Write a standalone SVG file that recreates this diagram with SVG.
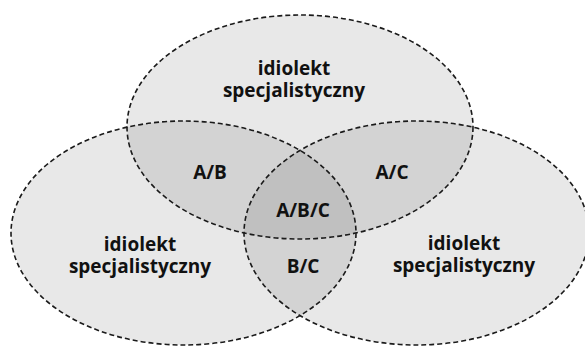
<svg xmlns="http://www.w3.org/2000/svg" width="585" height="346" viewBox="0 0 585 346">
  <style>
    .area { fill: #000; fill-opacity: 0.09; stroke: none; }
    .outline { fill: none; stroke: #1a1a1a; stroke-width: 1.6; stroke-dasharray: 5 3; }
    text { font-family: "Open Sans", "Noto Sans", sans-serif; font-weight: 700; font-size: 19px; fill: #111; text-anchor: middle; }
  </style>
  <rect width="585" height="346" fill="#fff"/>
  <g id="set-a">
    <ellipse class="area" cx="300" cy="127" rx="173" ry="112"/>
    <text x="294" y="75">idiolekt</text>
    <text x="294" y="97">specjalistyczny</text>
  </g>
  <g id="set-b">
    <ellipse class="area" cx="183.5" cy="233" rx="172.5" ry="112"/>
    <text x="140" y="251">idiolekt</text>
    <text x="140" y="273">specjalistyczny</text>
  </g>
  <g id="set-c">
    <ellipse class="area" cx="416.5" cy="233" rx="172.5" ry="112"/>
    <text x="464" y="250">idiolekt</text>
    <text x="464" y="272">specjalistyczny</text>
  </g>
  <g id="outlines">
    <ellipse class="outline" cx="300" cy="127" rx="173" ry="112"/>
    <ellipse class="outline" cx="183.5" cy="233" rx="172.5" ry="112"/>
    <ellipse class="outline" cx="416.5" cy="233" rx="172.5" ry="112"/>
  </g>
  <g id="ab"><text x="210" y="179">A/B</text></g>
  <g id="ac"><text x="392" y="179">A/C</text></g>
  <g id="abc"><text x="303" y="217">A/B/C</text></g>
  <g id="bc"><text x="303" y="273">B/C</text></g>
</svg>
